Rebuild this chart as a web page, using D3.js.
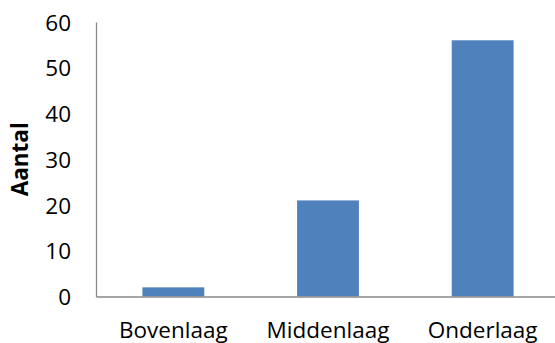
<!DOCTYPE html>
<html>
<head>
<meta charset="utf-8">
<script src="https://cdn.jsdelivr.net/npm/d3@7"></script>
<style>
  html, body { margin: 0; padding: 0; background: #fff; }
  svg { display: block; }
</style>
</head>
<body>
<svg id="chart" width="555" height="343"></svg>
<script>
// Aantal per laag
const categories = ["Bovenlaag", "Middenlaag", "Onderlaag"];
const values = [2, 21, 56];
const yTicks = [0, 10, 20, 30, 40, 50, 60];
const yLabel = "Aantal";

const svg = d3.select("#chart");
const font = "'Open Sans', 'DejaVu Sans', sans-serif";
const fontSize = 22.5;

const x = d3.scaleBand()
  .domain(categories)
  .range([96, 560])
  .paddingInner(0.6)
  .paddingOuter(0.3);

const y = d3.scaleLinear()
  .domain([0, 60])
  .range([296.5, 22]);

// bars
svg.append("g")
  .selectAll("rect")
  .data(values)
  .join("rect")
  .attr("x", (d, i) => x(categories[i]))
  .attr("width", x.bandwidth())
  .attr("y", d => y(d))
  .attr("height", d => y(0) - y(d))
  .attr("fill", "#4F81BD");

// y axis
const yAxis = svg.append("g")
  .attr("transform", "translate(96,0)")
  .call(d3.axisLeft(y).tickValues(yTicks).tickSize(0).tickPadding(25));
yAxis.select(".domain").attr("stroke", "#888").attr("stroke-width", 1.3);
yAxis.selectAll("text")
  .attr("font-family", font)
  .attr("font-size", fontSize)
  .attr("fill", "#000")
  .attr("dy", "0.36em");

// x axis
const xAxis = svg.append("g")
  .attr("transform", `translate(0,${y(0)})`)
  .call(d3.axisBottom(x).tickSize(0).tickPadding(0));
xAxis.select(".domain").attr("stroke", "#888").attr("stroke-width", 1.3);
xAxis.selectAll("text")
  .attr("font-family", font)
  .attr("font-size", fontSize)
  .attr("fill", "#000")
  .attr("dy", null)
  .attr("y", 41);

// axis title
svg.append("text")
  .attr("transform", `translate(28,${(y(0) + y(60)) / 2}) rotate(-90)`)
  .attr("text-anchor", "middle")
  .attr("font-family", font)
  .attr("font-size", fontSize)
  .attr("font-weight", "bold")
  .attr("fill", "#000")
  .text(yLabel);
</script>
</body>
</html>
